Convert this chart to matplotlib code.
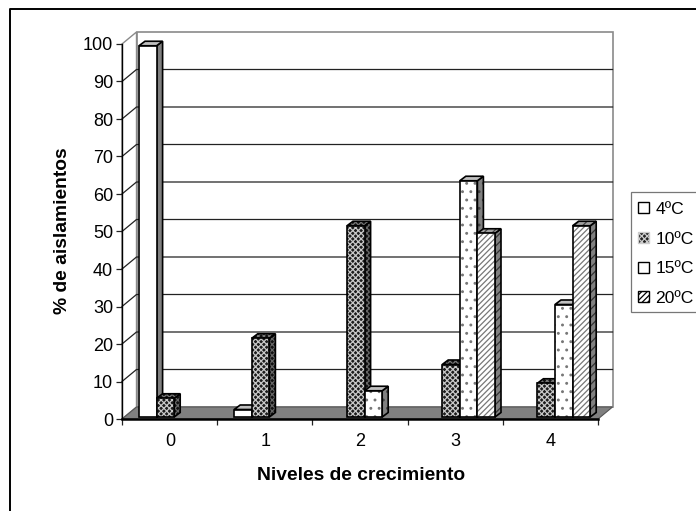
import matplotlib
matplotlib.use("Agg")
import matplotlib.pyplot as plt
from matplotlib.patches import Polygon, Patch, Rectangle
from matplotlib.lines import Line2D

categories = ["0", "1", "2", "3", "4"]
series_names = ["4ºC", "10ºC", "15ºC", "20ºC"]
v4 = [99, 2, 0, 0, 0]
v10 = [5, 21, 51, 14, 9]
v15 = [0, 0, 7, 63, 30]
v20 = [0, 0, 0, 49, 51]
series = [v4, v10, v15, v20]
yticks = list(range(0, 101, 10))

W, H = 696, 511
plt.rcParams["font.family"] = ["Liberation Sans", "DejaVu Sans"]
plt.rcParams["hatch.linewidth"] = 0.9
fig = plt.figure(figsize=(W / 100, H / 100), dpi=100, facecolor="white")
L, R, T, B = 122, 598, 44, 419
ax = fig.add_axes([L / W, 1 - B / H, (R - L) / W, (B - T) / H])
ax.set_xlim(0, 5)
ax.set_ylim(0, 100)
ax.patch.set_visible(False)

ux = 5 / (R - L)   # data units per pixel
uy = 100 / (B - T)
WALL_DX, WALL_DY = 14.5 * ux, 12 * uy
BAR_DX, BAR_DY = 6 * ux, 4.5 * uy
BAR_W = 17.6 * ux
START = 17 * ux
BASE = 2 * uy


def poly(pts, z, **kw):
    p = Polygon(pts, closed=True, clip_on=False, zorder=z, **kw)
    ax.add_patch(p)
    return p


# walls
GRAY = "#808080"
nc = len(categories)
poly([(WALL_DX, WALL_DY), (nc + WALL_DX, WALL_DY), (nc + WALL_DX, 100 + WALL_DY), (WALL_DX, 100 + WALL_DY)],
     1, facecolor="white", edgecolor="#8a8a8a", lw=1.2)
poly([(0, 0), (WALL_DX, WALL_DY), (WALL_DX, 100 + WALL_DY), (0, 100)], 1,
     facecolor="white", edgecolor="#8a8a8a", lw=1.0)
for v in yticks[1:-1]:
    ax.plot([0, WALL_DX, nc + WALL_DX], [v, v + WALL_DY, v + WALL_DY], color="#222222", lw=0.9,
            clip_on=False, zorder=2)
# floor
poly([(0, 0), (nc, 0), (nc + WALL_DX, WALL_DY), (WALL_DX, WALL_DY)], 3, facecolor=GRAY, edgecolor="#555555", lw=0.8)

styles = [
    dict(front=dict(facecolor="white"), side=dict(facecolor=GRAY), top=dict(facecolor="#c0c0c0")),
    dict(front=dict(facecolor="#1c1c1c", hatch="xxxxxx", edgecolor="#c8c8c8"),
         side=dict(facecolor="#111111", hatch="xxxxxx", edgecolor="#666666"),
         top=dict(facecolor="#111111", hatch="xxxxxx", edgecolor="#777777")),
    dict(front=dict(facecolor="white", hatch="..", edgecolor="#777777"),
         side=dict(facecolor=GRAY, hatch="..", edgecolor="#444444"),
         top=dict(facecolor="#c0c0c0")),
    dict(front=dict(facecolor="white", hatch="//////", edgecolor="#777777"),
         side=dict(facecolor=GRAY, hatch="////", edgecolor="#333333"),
         top=dict(facecolor="#a0a0a0", hatch="////", edgecolor="#444444")),
]

z = 4
for c in range(nc):
    for s, vals in enumerate(series):
        v = vals[c]
        if v == 0:
            continue
        x0 = c + START + s * BAR_W
        x1 = x0 + BAR_W
        base = BASE
        top = base + v
        st = styles[s]
        shapes = [
            ([(x1, base), (x1 + BAR_DX, base + BAR_DY), (x1 + BAR_DX, top + BAR_DY), (x1, top)], st["side"]),
            ([(x0, top), (x1, top), (x1 + BAR_DX, top + BAR_DY), (x0 + BAR_DX, top + BAR_DY)], st["top"]),
            ([(x0, base), (x1, base), (x1, top), (x0, top)], st["front"]),
        ]
        for pts, kw in shapes:
            if "hatch" in kw:
                poly(pts, z, lw=0, **kw)
                z += 0.01
                poly(pts, z, facecolor="none", edgecolor="black", lw=1.2)
            else:
                poly(pts, z, edgecolor="black", lw=1.2, **kw)
            z += 0.01

# axes
for sp in ["top", "right"]:
    ax.spines[sp].set_visible(False)
ax.spines["left"].set_linewidth(1.0)
ax.spines["bottom"].set_linewidth(1.8)
ax.spines["left"].set_zorder(50)
ax.spines["bottom"].set_zorder(50)
ax.set_yticks(yticks)
ax.set_yticklabels([str(t) for t in yticks], fontsize=13)
ax.set_xticks(range(nc + 1))
ax.set_xticklabels([""] * (nc + 1))
ax.tick_params(axis="both", length=4.5, width=0.9, color="#222222")
ax.tick_params(axis="y", pad=2)
for i, cat in enumerate(categories):
    ax.annotate(cat, (i + 0.505, 0), xytext=(0, -16.5), textcoords="offset points",
                ha="center", va="center", fontsize=13, annotation_clip=False)
ax.set_xlabel("Niveles de crecimiento", fontsize=13.9, fontweight="bold")
ax.xaxis.set_label_coords((361 - L) / (R - L), -(467 - B) / (B - T))
ax.set_ylabel("% de aislamientos", fontsize=13.9, fontweight="bold")
ax.yaxis.set_label_coords((71 - L) / (R - L), (B - 231) / (B - T))

# chart frame: only left and top edges visible
fig.add_artist(Line2D([9.5 / W, 9.5 / W, 1], [0, 1 - 9.5 / H, 1 - 9.5 / H], color="black", lw=1.4))

# legend frame runs past the right edge of the picture
fig.add_artist(Rectangle((631 / W, 1 - 312 / H), 80 / W, 120 / H, transform=fig.transFigure,
                         facecolor="white", edgecolor="#777777", lw=0.9))

handles = [
    Patch(facecolor="white", edgecolor="black", lw=1.0),
    Patch(facecolor="#222222", edgecolor="#cccccc", lw=1.0, hatch="xxxxxx"),
    Patch(facecolor="white", edgecolor="black", lw=1.0),
    Patch(facecolor="white", edgecolor="black", lw=1.0, hatch="//////"),
]
leg = fig.legend(handles, series_names, loc="upper left", bbox_to_anchor=(631 / W, 1 - 195 / H),
                 borderaxespad=0, fontsize=12.6, frameon=False,
                 handlelength=0.6, handleheight=0.6, handletextpad=0.4, labelspacing=0.84,
                 borderpad=0.4)
leg.set_zorder(10)

fig.savefig("out.png", dpi=100)
